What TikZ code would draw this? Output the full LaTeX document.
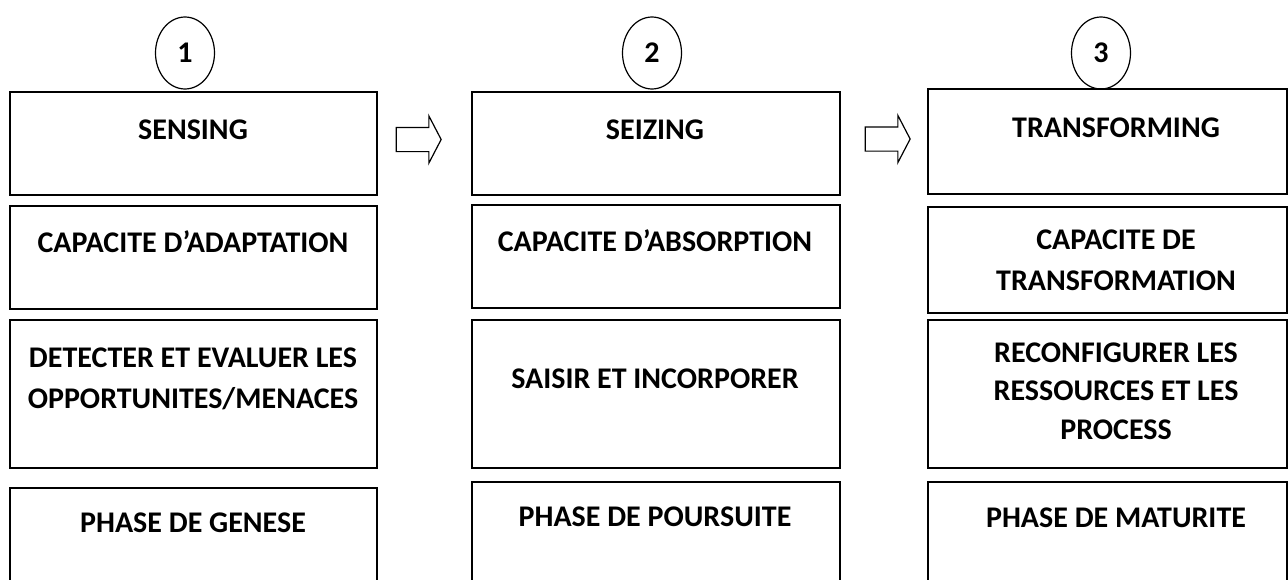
\documentclass[tikz,border=0pt]{standalone}
\usepackage{fontspec}
\setmainfont{Carlito}
\usetikzlibrary{fit, positioning, shapes.geometric, shapes.arrows}

\begin{document}
\begin{tikzpicture}[x=1pt, y=-1pt,
    box/.style={draw, line width=1.6pt, inner sep=0pt},
    num/.style={draw, ellipse, line width=1.2pt, minimum width=59pt, minimum height=72pt,
      font=\bfseries\fontsize{30}{32}\selectfont},
    lbl/.style={anchor=base, align=center, inner sep=0pt,
      font=\bfseries\fontsize{30}{41}\selectfont},
    stepArrow/.style={draw, single arrow, line width=1.2pt, minimum height=45pt,
      single arrow head extend=11.5pt, single arrow tip angle=125,
      inner xsep=0pt, inner ysep=11.5pt}]
      \useasboundingbox (0,0) rectangle (1288,579);
      \clip (0,0) rectangle (1288,579);

      % column 1
      \node[box, fit={(10,92) (377,195)}] (sense) {};
      \node[box, fit={(10,206) (377,309)}] (adapt) {};
      \node[box, fit={(10,320) (377,468)}] (detect) {};
      \node[box, fit={(10,488) (377,610)}] (genese) {};
      \node[num] (n1) at (185,53) {1};
      \node[lbl] (senseT) at (193,139) {SENSING};
      \node[lbl] (adaptT) at (193,252) {CAPACITE D’ADAPTATION};
      \node[lbl] (detectT) at (193,408) {DETECTER ET EVALUER LES\\OPPORTUNITES/MENACES};
      \node[lbl] (geneseT) at (193,532) {PHASE DE GENESE};

      % column 2
      \node[box, fit={(472,92) (840,195)}] (seize) {};
      \node[box, fit={(472,205) (840,308)}] (absorb) {};
      \node[box, fit={(472,320) (840,468)}] (saisir) {};
      \node[box, fit={(472,482) (840,610)}] (poursuite) {};
      \node[num] (n2) at (652,53) {2};
      \node[lbl] (seizeT) at (655,139) {SEIZING};
      \node[lbl] (absorbT) at (655,251) {CAPACITE D’ABSORPTION};
      \node[lbl] (saisirT) at (655,388) {SAISIR ET INCORPORER};
      \node[lbl] (poursuiteT) at (655,526) {PHASE DE POURSUITE};

      % column 3
      \node[box, fit={(928,89) (1287,194)}] (transf) {};
      \node[box, fit={(928,207) (1287,313)}] (capTransf) {};
      \node[box, fit={(928,320) (1287,468)}] (reconf) {};
      \node[box, fit={(928,482) (1287,610)}] (maturite) {};
      \node[num] (n3) at (1101,53) {3};
      \node[lbl] (transfT) at (1116,137) {TRANSFORMING};
      \node[lbl] (capTransfT) at (1116,290) {CAPACITE DE\\TRANSFORMATION};
      \node[lbl, font=\bfseries\fontsize{30}{38.5}\selectfont] (reconfT) at (1116,439)
        {RECONFIGURER LES\\RESSOURCES ET LES\\PROCESS};
      \node[lbl] (maturiteT) at (1116,527) {PHASE DE MATURITE};

      % arrows between phases
      \node[stepArrow] (a12) at (415.5,139.5) {};
      \node[stepArrow] (a23) at (884.5,139) {};
\end{tikzpicture}
\end{document}
